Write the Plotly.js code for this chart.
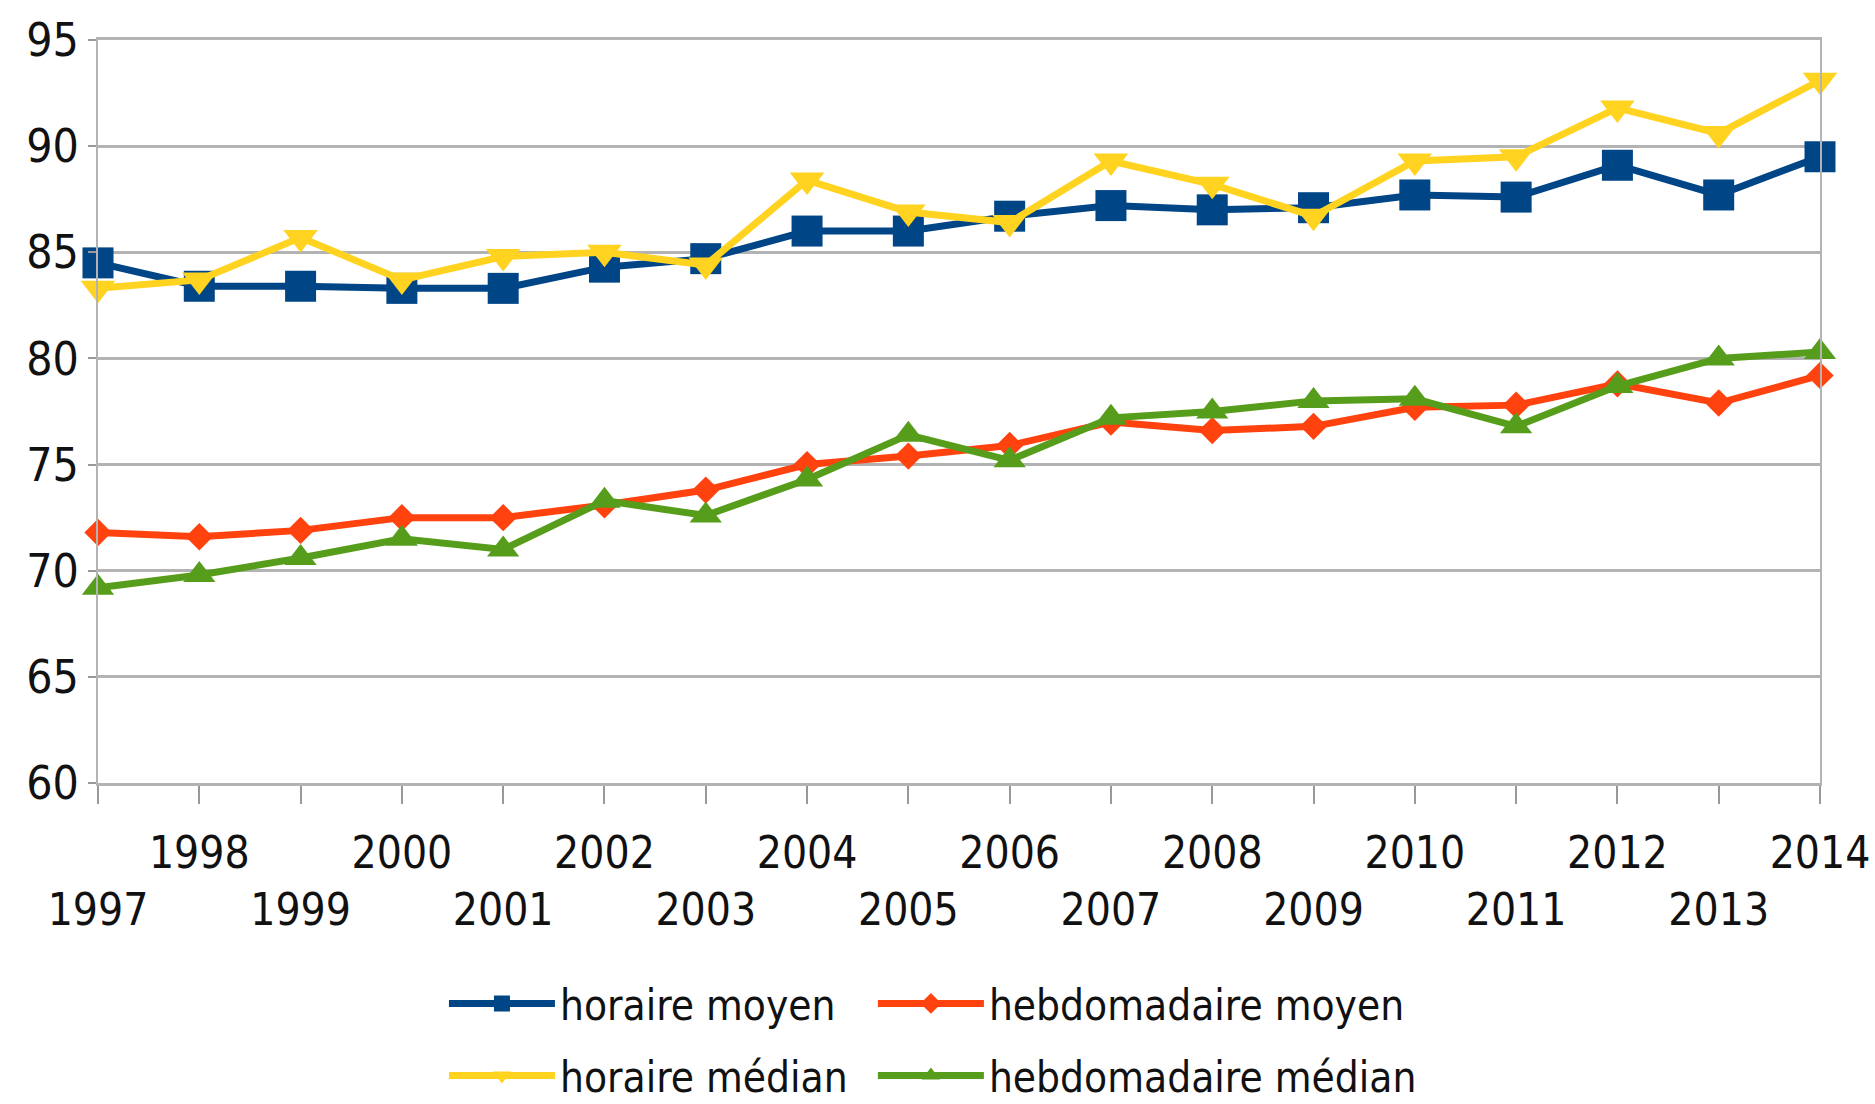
<!DOCTYPE html>
<html>
<head>
<meta charset="utf-8">
<script src="https://cdn.plot.ly/plotly-3.0.1.min.js"></script>
<style>
  html, body { margin: 0; padding: 0; background: #fff; }
  #chart { width: 1875px; height: 1104px; }
</style>
</head>
<body>
<div id="chart"></div>
<script>
const years = [1997, 1998, 1999, 2000, 2001, 2002, 2003, 2004, 2005, 2006, 2007, 2008, 2009, 2010, 2011, 2012, 2013, 2014];
const horaireMoyen = [84.5, 83.4, 83.4, 83.3, 83.3, 84.3, 84.7, 86.0, 86.0, 86.7, 87.2, 87.0, 87.1, 87.7, 87.6, 89.1, 87.7, 89.5];
const hebdoMoyen = [71.8, 71.6, 71.9, 72.5, 72.5, 73.1, 73.8, 75.0, 75.4, 75.9, 77.0, 76.6, 76.8, 77.7, 77.8, 78.8, 77.9, 79.2];
const horaireMedian = [83.3, 83.7, 85.7, 83.7, 84.8, 85.0, 84.4, 88.4, 86.9, 86.4, 89.3, 88.2, 86.7, 89.3, 89.5, 91.8, 90.6, 93.1];
const hebdoMedian = [69.2, 69.8, 70.6, 71.5, 71.0, 73.3, 72.6, 74.3, 76.4, 75.2, 77.2, 77.5, 78.0, 78.1, 76.8, 78.7, 80.0, 80.3];
const seriesNames = ["horaire moyen", "hebdomadaire moyen", "horaire médian", "hebdomadaire médian"];
const yTicks = [60, 65, 70, 75, 80, 85, 90, 95];
// even years on the first row, odd years on the second row
const xTickText = years.map(y => (y % 2 === 0 ? String(y) : "\u00a0<br>" + y));

const FONT = "'Liberation Sans Narrow', 'DejaVu Sans Condensed', 'DejaVu Sans', sans-serif";

function trace(name, y, color, symbol, size, legend) {
  return {
    x: years, y: y, name: name, type: "scatter", mode: "lines+markers",
    line: { color: color, width: 7 },
    marker: { color: color, symbol: symbol, size: size, line: { width: 0 } },
    cliponaxis: false,
    legend: legend
  };
}

const data = [
  trace(seriesNames[0], horaireMoyen, "#004586", "square", 31, "legend"),
  trace(seriesNames[1], hebdoMoyen, "#ff420e", "diamond", 21, "legend2"),
  trace(seriesNames[2], horaireMedian, "#ffd320", "triangle-down", 30, "legend3"),
  trace(seriesNames[3], hebdoMedian, "#579d1c", "triangle-up", 28, "legend4")
];

function legendAt(x, y) {
  return {
    x: x, y: y, xanchor: "left", yanchor: "middle", orientation: "h",
    font: { family: FONT, size: 42, color: "#111" },
    bgcolor: "rgba(0,0,0,0)", itemwidth: 106
  };
}

const layout = {
  width: 1875, height: 1104,
  margin: { l: 98, r: 55, t: 40, b: 321, autoexpand: false },
  paper_bgcolor: "#fff", plot_bgcolor: "#fff",
  font: { family: FONT, size: 44, color: "#111" },
  showlegend: true,
  xaxis: {
    range: [1997, 2014], tickmode: "array", tickvals: years, ticktext: xTickText,
    tickangle: 0, showgrid: false, zeroline: false, automargin: false,
    showline: true, linecolor: "#b3b3b3", linewidth: 3, mirror: true,
    ticks: "outside", ticklen: 18, tickwidth: 2, tickcolor: "#999",
    ticklabelstandoff: 11,
    tickfont: { family: FONT, size: 44, color: "#111" }
  },
  yaxis: {
    range: [60, 95], tickmode: "array", tickvals: yTicks, automargin: false,
    showgrid: true, gridcolor: "#b3b3b3", gridwidth: 3, zeroline: false,
    showline: true, linecolor: "#b3b3b3", linewidth: 2, mirror: true,
    ticks: "outside", ticklen: 8, tickwidth: 2, tickcolor: "#999",
    tickfont: { family: FONT, size: 46, color: "#111" }
  },
  legend: legendAt(0.2009, -0.297),
  legend2: legendAt(0.450, -0.297),
  legend3: legendAt(0.2009, -0.394),
  legend4: legendAt(0.450, -0.394)
};

Plotly.newPlot("chart", data, layout, { displayModeBar: false, staticPlot: true });
</script>
</body>
</html>
